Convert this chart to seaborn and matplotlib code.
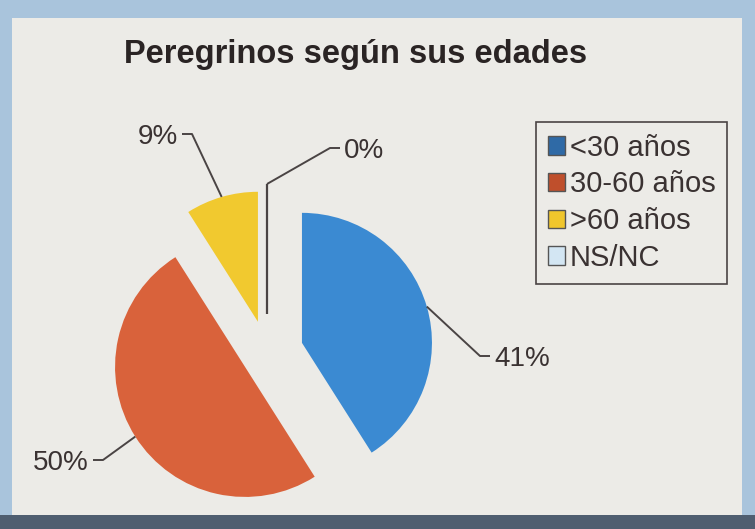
import numpy as np
import matplotlib
matplotlib.use("Agg")
import matplotlib.pyplot as plt
from matplotlib.patches import Patch, Rectangle
import seaborn as sns

# %%
categorias = ["<30 años", "30-60 años", ">60 años", "NS/NC"]
porcentajes = [41, 50, 9, 0]
etiquetas = ["41%", "50%", "9%", "0%"]
colores_pie = ["#3b8ad2", "#d9623b", "#f1c92f", "#cfe3f1"]
colores_leyenda = ["#2f6aa6", "#bf4f2c", "#f0c62c", "#d3e6f3"]

# %%
sns.set_theme(style="white")
plt.rcParams["font.family"] = ["Liberation Sans", "DejaVu Sans"]

W, H = 755, 529
fig = plt.figure(figsize=(W / 100, H / 100), dpi=100, facecolor="#a9c4dc")

# panel claro y sombra (foto)
fig.patches.append(Rectangle((0, 0), 1, 14 / H, transform=fig.transFigure,
                             facecolor="#4f5e70", edgecolor="none", zorder=-2))
fig.patches.append(Rectangle((12 / W, 14 / H), 730 / W, 497 / H, transform=fig.transFigure,
                             facecolor="#ecebe7", edgecolor="none", zorder=-2))

ax = fig.add_axes([0, 0, 1, 1], zorder=1)
ax.patch.set_alpha(0)

radio = 130
separacion = [0.28, 0.2, 0.25, 0.3]
wedges, _ = ax.pie(porcentajes, explode=[s * radio for s in separacion],
                   colors=colores_pie, startangle=90, counterclock=False,
                   center=(267, H - 353), radius=radio,
                   wedgeprops=dict(linewidth=0), frame=True)
wedges[3].set_edgecolor("#4a4444")
wedges[3].set_linewidth(1.6)
ax.set_xlim(0, W)
ax.set_ylim(0, H)
ax.set_aspect("equal")
ax.axis("off")

# etiquetas con lineas guia: codo y lado del texto
codos = [(480, H - 356, 1), (103, H - 460, -1), (192, H - 134, -1), (330, H - 148, 1)]
for w, lab, (ex, ey, lado) in zip(wedges, etiquetas, codos):
    ang = np.deg2rad((w.theta1 + w.theta2) / 2)
    cx, cy = w.center
    px, py = cx + w.r * np.cos(ang), cy + w.r * np.sin(ang)
    hx = ex + 10 * lado
    ax.plot([px, ex, hx], [py, ey, ey], color="#4a4444", lw=1.4, solid_capstyle="butt")
    ax.text(hx + 4 * lado, ey - 3, lab, fontsize=20, color="#3a3232",
            ha="left" if lado > 0 else "right", va="center")

fig.text(356 / W, 1 - 55 / H, "Peregrinos según sus edades", fontsize=23.5,
         fontweight="bold", color="#2a2424", ha="center", va="center")

handles = [Patch(facecolor=c, edgecolor="#555555", linewidth=1.0) for c in colores_leyenda]
leg = fig.legend(handles, categorias, loc="upper left",
                 bbox_to_anchor=(536 / W, 1 - 122 / H), fontsize=21,
                 frameon=True, fancybox=False, framealpha=1,
                 handlelength=0.6, handleheight=0.6, handletextpad=0.15,
                 labelspacing=0.3, borderpad=0.4, borderaxespad=0)
leg.get_frame().set_edgecolor("#4a4444")
leg.get_frame().set_facecolor("#ecebe7")
leg.get_frame().set_linewidth(1.2)
for t in leg.get_texts():
    t.set_color("#3a3232")

fig.savefig("out.png", dpi=100, facecolor=fig.get_facecolor())
